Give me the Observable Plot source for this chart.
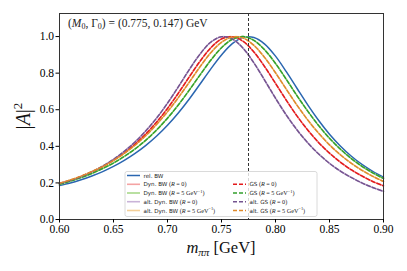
<!DOCTYPE html>
<html><head><meta charset="utf-8">
<script src="https://cdn.jsdelivr.net/npm/d3@7"></script>
<script src="https://cdn.jsdelivr.net/npm/@observablehq/plot@0.6"></script>
<style>html,body{margin:0;padding:0;background:#fff}svg{display:block}</style>
</head><body><div id="chart"></div>
<script>
// invariant mass grid (GeV)
const mass = [0.60,0.61,0.62,0.63,0.64,0.65,0.66,0.67,0.68,0.69,0.70,0.71,0.72,0.73,0.74,0.75,0.76,0.77,0.78,0.79,0.80,0.81,0.82,0.83,0.84,0.85,0.86,0.87,0.88,0.89,0.90];
// |A|^2
const relBW    = [0.186,0.199,0.217,0.238,0.262,0.290,0.323,0.361,0.405,0.456,0.515,0.582,0.657,0.739,0.822,0.899,0.961,0.995,0.995,0.959,0.893,0.808,0.716,0.625,0.541,0.466,0.402,0.347,0.301,0.263,0.232];
const dynBW_R0 = [0.196,0.213,0.235,0.260,0.289,0.324,0.364,0.412,0.468,0.533,0.607,0.690,0.778,0.864,0.938,0.987,0.999,0.974,0.916,0.835,0.744,0.652,0.565,0.488,0.420,0.363,0.314,0.272,0.238,0.208,0.184];
const dynBW_R5 = [0.192,0.210,0.229,0.252,0.279,0.309,0.345,0.386,0.434,0.490,0.554,0.626,0.706,0.789,0.870,0.939,0.985,1.000,0.979,0.927,0.853,0.766,0.676,0.591,0.513,0.444,0.385,0.334,0.291,0.255,0.224];
const altBW_R0 = [0.197,0.214,0.235,0.261,0.292,0.329,0.373,0.424,0.485,0.555,0.636,0.725,0.818,0.903,0.969,0.999,0.987,0.936,0.856,0.761,0.663,0.571,0.489,0.418,0.358,0.307,0.265,0.230,0.200,0.175,0.154];
const altBW_R5 = [0.198,0.216,0.237,0.262,0.290,0.323,0.362,0.406,0.459,0.520,0.589,0.666,0.749,0.834,0.911,0.969,0.998,0.992,0.952,0.885,0.802,0.712,0.624,0.543,0.471,0.408,0.354,0.308,0.269,0.236,0.208];
const GS_R0    = [0.196,0.213,0.235,0.260,0.289,0.324,0.364,0.412,0.468,0.533,0.607,0.690,0.778,0.864,0.938,0.987,0.999,0.974,0.916,0.835,0.744,0.652,0.565,0.488,0.420,0.363,0.314,0.272,0.238,0.208,0.184];
const GS_R5    = [0.192,0.210,0.229,0.252,0.279,0.309,0.345,0.386,0.434,0.490,0.554,0.626,0.706,0.789,0.870,0.939,0.985,1.000,0.979,0.927,0.853,0.766,0.676,0.591,0.513,0.444,0.385,0.334,0.291,0.255,0.224];
const altGS_R0 = [0.197,0.214,0.235,0.261,0.292,0.329,0.373,0.424,0.485,0.555,0.636,0.725,0.818,0.903,0.969,0.999,0.987,0.936,0.856,0.761,0.663,0.571,0.489,0.418,0.358,0.307,0.265,0.230,0.200,0.175,0.154];
const altGS_R5 = [0.198,0.216,0.237,0.262,0.290,0.323,0.362,0.406,0.459,0.520,0.589,0.666,0.749,0.834,0.911,0.969,0.998,0.992,0.952,0.885,0.802,0.712,0.624,0.543,0.471,0.408,0.354,0.308,0.269,0.236,0.208];

const M0 = 0.775;
const xTicks = [0.60,0.65,0.70,0.75,0.80,0.85,0.90];
const yTicks = [0.0,0.2,0.4,0.6,0.8,1.0];

// label parts: [prefix, R value or null]
const series = [
  {values: relBW,    color:"#2a66b0", dash:null,  w:1.5, label:["rel. BW", null]},
  {values: dynBW_R0, color:"#f4a3a3", dash:null,  w:1.6, label:["Dyn. BW", "0"]},
  {values: dynBW_R5, color:"#a8d98a", dash:null,  w:1.6, label:["Dyn. BW", "5"]},
  {values: altBW_R0, color:"#c9b3d8", dash:null,  w:1.6, label:["alt. Dyn. BW", "0"]},
  {values: altBW_R5, color:"#f3cf98", dash:null,  w:1.6, label:["alt. Dyn. BW", "5"]},
  {values: GS_R0,    color:"#e31a1c", dash:"4,2", w:1.5, label:["GS", "0"]},
  {values: GS_R5,    color:"#33a02c", dash:"4,2", w:1.5, label:["GS", "5"]},
  {values: altGS_R0, color:"#74548f", dash:"4,2", w:1.5, label:["alt. GS", "0"]},
  {values: altGS_R5, color:"#df8a2c", dash:"4,2", w:1.5, label:["alt. GS", "5"]}
];

const W = 407, H = 271;
const mL = 59, mR = 24, mT = 13, mB = 52;

const lineMarks = series.map(s => Plot.line(mass, {
  x: d => d, y: (d, i) => s.values[i],
  stroke: s.color, strokeWidth: s.w, strokeDasharray: s.dash, curve: "catmull-rom"
}));

const svg = Plot.plot({
  width: W, height: H,
  marginLeft: mL, marginRight: mR, marginTop: mT, marginBottom: mB,
  style: {fontFamily: "'Liberation Serif', serif", fontSize: "11px", color: "#000", background: "#fff"},
  x: {domain: [0.6, 0.9]},
  y: {domain: [0, 1.126]},
  marks: [
    ...lineMarks,
    Plot.ruleX([M0], {stroke: "#333", strokeWidth: 1, strokeDasharray: "3,2"}),
    Plot.frame({stroke: "#333", strokeWidth: 1}),
    Plot.axisX({ticks: xTicks, tickFormat: d3.format(".2f"), tickSize: 3.5, tickPadding: 2, label: null, fontSize: 11.5}),
    Plot.axisY({ticks: yTicks, tickFormat: d3.format(".1f"), tickSize: 3.5, tickPadding: 2, label: null, fontSize: 11.5})
  ]
});
document.getElementById("chart").appendChild(svg);

const root = d3.select(svg);
const serif = "'Liberation Serif', serif";

// annotation
const ann = root.append("text").attr("x", 68).attr("y", 27).attr("text-anchor", "start")
  .attr("font-family", serif).attr("font-size", 11.5).attr("fill", "#222");
ann.append("tspan").text("(");
ann.append("tspan").attr("font-style", "italic").text("M");
ann.append("tspan").attr("font-size", 8).attr("dy", 2).text("0");
ann.append("tspan").attr("dy", -2).text(", Γ");
ann.append("tspan").attr("font-size", 8).attr("dy", 2).text("0");
ann.append("tspan").attr("dy", -2).text(") = (0.775, 0.147) GeV");

// x label
const xl = root.append("text").attr("x", (mL + W - mR) / 2).attr("y", 253)
  .attr("text-anchor", "middle").attr("font-family", serif).attr("font-size", 16.5).attr("fill", "#111");
xl.append("tspan").attr("font-style", "italic").text("m");
xl.append("tspan").attr("font-style", "italic").attr("font-size", 11).attr("dy", 3).text("ππ");
xl.append("tspan").attr("dy", -3).text(" [GeV]");

// y label
const yl = root.append("text").attr("transform", `translate(30,${(mT + H - mB) / 2}) rotate(-90)`)
  .attr("text-anchor", "middle").attr("font-family", serif).attr("font-size", 20).attr("fill", "#111");
yl.append("tspan").text("|");
yl.append("tspan").attr("font-style", "italic").text("A");
yl.append("tspan").text("|");
yl.append("tspan").attr("font-size", 13).attr("dy", -8).text("2");

// legend
const lg = root.append("g").attr("text-anchor", "start");
lg.append("rect").attr("x", 125).attr("y", 171.5).attr("width", 192).attr("height", 45)
  .attr("rx", 2).attr("fill", "#fff").attr("fill-opacity", 0.8).attr("stroke", "#d0d0d0").attr("stroke-width", 0.8);
const rowY = [175.5, 184.3, 193, 201.7, 210.5];
series.forEach((s, i) => {
  const col = i < 5 ? 0 : 1;
  const row = i < 5 ? i : i - 4;
  const hx = col === 0 ? 127 : 233;
  const tx = col === 0 ? 143.5 : 249.5;
  const y = rowY[row];
  lg.append("line").attr("x1", hx).attr("x2", hx + 13).attr("y1", y).attr("y2", y)
    .attr("stroke", s.color).attr("stroke-width", s.w).attr("stroke-dasharray", s.dash);
  const t = lg.append("text").attr("x", tx).attr("y", y + 2).attr("text-anchor", "start")
    .attr("font-family", "'DejaVu Sans', sans-serif").attr("font-size", 5.6).attr("fill", "#222");
  t.append("tspan").text(s.label[0]);
  if (s.label[1] !== null) {
    t.append("tspan").attr("font-family", serif).attr("font-size", 6.2).text(" (");
    t.append("tspan").attr("font-family", serif).attr("font-size", 6.2).attr("font-style", "italic").text("R");
    t.append("tspan").attr("font-family", serif).attr("font-size", 6.2)
      .text(s.label[1] === "0" ? " = 0)" : " = 5 GeV");
    if (s.label[1] === "5") {
      t.append("tspan").attr("font-family", serif).attr("font-size", 4.4).attr("dy", -2.2).text("−1");
      t.append("tspan").attr("font-family", serif).attr("font-size", 6.2).attr("dy", 2.2).text(")");
    }
  }
});
</script>
</body></html>
